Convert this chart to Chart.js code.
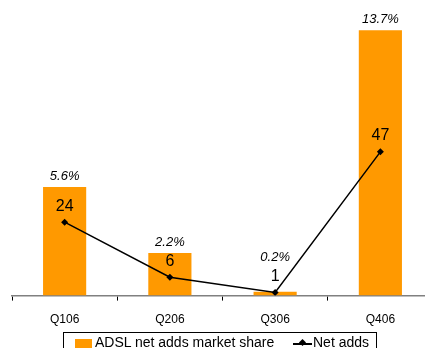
<!DOCTYPE html>
<html>
<head>
<meta charset="utf-8">
<script src="https://cdn.jsdelivr.net/npm/chart.js@4.4.1/dist/chart.umd.min.js"></script>
<style>
  html, body { margin:0; padding:0; background:#fff; overflow:hidden; width:425px; height:348px; }
  #wrap { position:relative; width:440px; height:348px; }
  #legend {
    position:absolute; left:63px; top:332px; width:314px; height:24px;
    border:1px solid #000; box-sizing:border-box;
    font-family:"Liberation Sans", Arial, sans-serif; font-size:14px; color:#000;
  }
  #legend .sw { position:absolute; left:11px; top:6px; width:17px; height:9px; background:#FF9900; }
  #legend .t1 { position:absolute; left:31px; top:1px; }
  #legend .ln { position:absolute; left:229px; top:10px; width:19px; height:1.5px; background:#000; }
  #legend .dm { position:absolute; left:236px; top:7px; width:5px; height:5px; background:#000; transform:rotate(45deg); }
  #legend .t2 { position:absolute; left:249px; top:1px; }
</style>
</head>
<body>
<div id="wrap">
  <canvas id="chart" width="440" height="348"></canvas>
  <div id="legend">
    <div class="sw"></div><div class="t1">ADSL net adds market share</div>
    <div class="ln"></div><div class="dm"></div><div class="t2">Net adds</div>
  </div>
</div>
<script>
const quarters = ['Q106', 'Q206', 'Q306', 'Q406'];
const marketShare = [5.6, 2.2, 0.2, 13.7];   // %
const netAdds = [24, 6, 1, 47];

// value labels: italic % above bars, plain numbers above line points
// (the % label is pushed up when the number label would sit on it)
const valueLabels = {
  id: 'valueLabels',
  afterDatasetsDraw(chart) {
    const c = chart.ctx;
    const bars = chart.getDatasetMeta(0).data;
    const pts = chart.getDatasetMeta(1).data;
    c.save();
    c.fillStyle = '#000';
    c.textAlign = 'center';
    c.textBaseline = 'middle';
    pts.forEach((p, i) => {
      const numY = p.y - 16;
      const pctY = Math.min(bars[i].y - 11, numY - 19);
      c.font = '16px "Liberation Sans", Arial, sans-serif';
      c.fillText(String(netAdds[i]), p.x, numY);
      c.font = 'italic 13px "Liberation Sans", Arial, sans-serif';
      c.fillText(marketShare[i].toFixed(1) + '%', bars[i].x, pctY);
    });
    c.restore();
  }
};

new Chart(document.getElementById('chart'), {
  data: {
    labels: quarters,
    datasets: [
      {
        type: 'bar',
        label: 'ADSL net adds market share',
        data: marketShare,
        backgroundColor: '#FF9900',
        yAxisID: 'yShare',
        categoryPercentage: 0.82,
        barPercentage: 0.5,
        order: 1
      },
      {
        type: 'line',
        label: 'Net adds',
        data: netAdds,
        borderColor: '#000',
        borderWidth: 1.5,
        backgroundColor: '#000',
        pointStyle: 'rectRot',
        pointRadius: 3.5,
        pointBorderWidth: 0,
        yAxisID: 'yAdds',
        order: 0
      }
    ]
  },
  options: {
    responsive: false,
    animation: false,
    events: [],
    layout: { padding: { left: 12, right: 7, top: 5, bottom: 9 } },
    plugins: { legend: { display: false }, tooltip: { enabled: false } },
    scales: {
      x: {
        offset: true,
        grid: { offset: true, drawOnChartArea: false, tickLength: 5, color: '#000', lineWidth: 1 },
        border: { color: '#808080', width: 1.5 },
        ticks: { color: '#000', padding: 12, font: { family: '"Liberation Sans", Arial, sans-serif', size: 12 } }
      },
      yShare: { display: false, min: 0, max: 15 },
      yAdds: { display: false, min: 0, max: 95 }
    }
  },
  plugins: [valueLabels]
});
</script>
</body>
</html>
